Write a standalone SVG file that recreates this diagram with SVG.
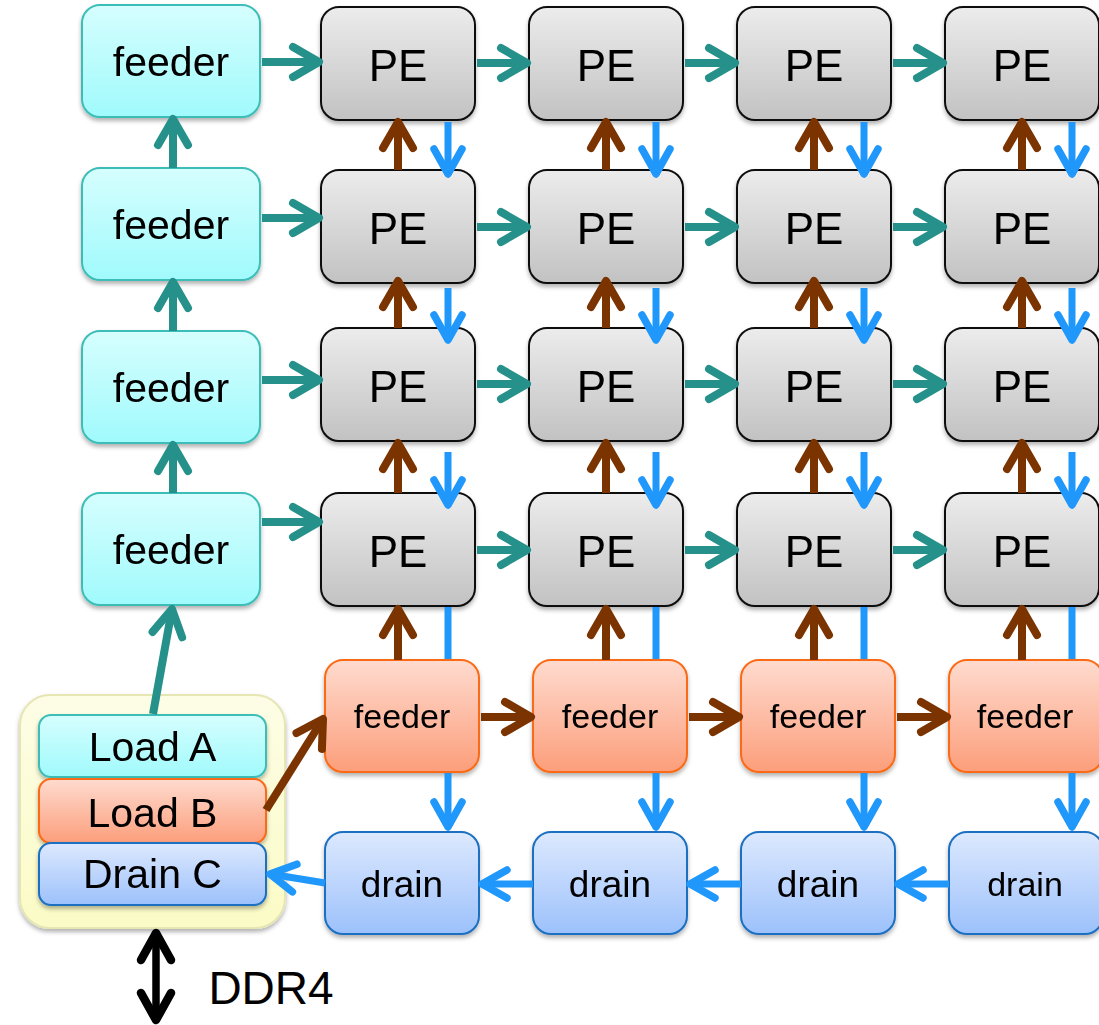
<svg xmlns="http://www.w3.org/2000/svg" width="1099" height="1025" viewBox="0 0 1099 1025">
<defs>
<linearGradient id="gPE" x1="0" y1="0" x2="0" y2="1"><stop offset="0" stop-color="#ececec"/><stop offset="1" stop-color="#c2c2c2"/></linearGradient>
<linearGradient id="gCy" x1="0" y1="0" x2="0" y2="1"><stop offset="0" stop-color="#d6fefe"/><stop offset="1" stop-color="#a0fafc"/></linearGradient>
<linearGradient id="gOr" x1="0" y1="0" x2="0" y2="1"><stop offset="0" stop-color="#fedbcf"/><stop offset="1" stop-color="#fc9e7b"/></linearGradient>
<linearGradient id="gBl" x1="0" y1="0" x2="0" y2="1"><stop offset="0" stop-color="#dde9fe"/><stop offset="1" stop-color="#9cc1fb"/></linearGradient>
<linearGradient id="gYe" x1="0" y1="0" x2="0" y2="1"><stop offset="0" stop-color="#fdfde6"/><stop offset="1" stop-color="#fbfbc6"/></linearGradient>
<filter id="sh" x="-10%" y="-10%" width="120%" height="130%"><feDropShadow dx="0" dy="3" stdDeviation="2" flood-color="#000" flood-opacity="0.3"/></filter>
<marker id="aT" markerUnits="userSpaceOnUse" orient="auto" overflow="visible" markerWidth="10" markerHeight="10" refX="0" refY="0"><path d="M-26,-15 L0,0 L-26,15" fill="none" stroke="#25918a" stroke-width="8" stroke-linecap="round" stroke-linejoin="round"/></marker>
<marker id="aR" markerUnits="userSpaceOnUse" orient="auto" overflow="visible" markerWidth="10" markerHeight="10" refX="0" refY="0"><path d="M-26,-15 L0,0 L-26,15" fill="none" stroke="#7b3300" stroke-width="8" stroke-linecap="round" stroke-linejoin="round"/></marker>
<marker id="aB" markerUnits="userSpaceOnUse" orient="auto" overflow="visible" markerWidth="10" markerHeight="10" refX="0" refY="0"><path d="M-25,-14 L0,0 L-25,14" fill="none" stroke="#1f97fb" stroke-width="7.5" stroke-linecap="round" stroke-linejoin="round"/></marker>
<marker id="aK" markerUnits="userSpaceOnUse" orient="auto-start-reverse" overflow="visible" markerWidth="10" markerHeight="10" refX="0" refY="0"><path d="M-27,-15 L0,0 L-27,15" fill="none" stroke="#000" stroke-width="8.5" stroke-linecap="round" stroke-linejoin="round"/></marker>
</defs>
<style>
text{font-family:"Liberation Sans",Arial,Helvetica,sans-serif;fill:#000;text-anchor:middle}
.pe{fill:url(#gPE);stroke:#111;stroke-width:2}
.cy{fill:url(#gCy);stroke:#3dbdb8;stroke-width:2}
.or{fill:url(#gOr);stroke:#fb6a12;stroke-width:2}
.bl{fill:url(#gBl);stroke:#1c6fc2;stroke-width:2}
.ye{fill:url(#gYe);stroke:#e6e6b4;stroke-width:2}
.box{filter:url(#sh)}
.t{stroke:#25918a;stroke-width:8;fill:none}
.r{stroke:#7b3300;stroke-width:8;fill:none}
.b{stroke:#1f97fb;stroke-width:7;fill:none}
.k{stroke:#000;stroke-width:7.5;fill:none}
.tPE{font-size:44px}
.tCy{font-size:41px}
.tOr{font-size:34px}
.tDr{font-size:37px}
.tLd{font-size:41px}
</style>

<!-- Load group -->
<g id="loadbox" class="box"><rect class="ye" x="20" y="695" width="265" height="233" rx="30"/></g>
<g id="loadA" class="box"><rect class="cy" x="39" y="715" width="227" height="62" rx="12"/><text class="tLd" x="152.5" y="761">Load A</text></g>
<g id="loadB" class="box"><rect class="or" x="39" y="779" width="227" height="64" rx="12"/><text class="tLd" x="152.5" y="827">Load B</text></g>
<g id="drainC" class="box"><rect class="bl" x="39" y="843" width="227" height="62" rx="12"/><text class="tLd" x="152.5" y="888">Drain C</text></g>

<!-- cyan feeders -->
<g id="feederL1" class="box"><rect class="cy" x="82" y="5" width="178" height="112" rx="18"/><text class="tCy" x="171" y="76">feeder</text></g>
<g id="feederL2" class="box"><rect class="cy" x="82" y="168" width="178" height="112" rx="18"/><text class="tCy" x="171" y="239">feeder</text></g>
<g id="feederL3" class="box"><rect class="cy" x="82" y="331" width="178" height="112" rx="18"/><text class="tCy" x="171" y="402">feeder</text></g>
<g id="feederL4" class="box"><rect class="cy" x="82" y="493" width="178" height="112" rx="18"/><text class="tCy" x="171" y="564">feeder</text></g>

<!-- PE grid -->
<g id="pe11" class="box"><rect class="pe" x="321" y="7" width="154" height="113" rx="18"/><text class="tPE" x="398" y="81">PE</text></g>
<g id="pe12" class="box"><rect class="pe" x="529" y="7" width="154" height="113" rx="18"/><text class="tPE" x="606" y="81">PE</text></g>
<g id="pe13" class="box"><rect class="pe" x="737" y="7" width="154" height="113" rx="18"/><text class="tPE" x="814" y="81">PE</text></g>
<g id="pe14" class="box"><rect class="pe" x="945" y="7" width="154" height="113" rx="18"/><text class="tPE" x="1022" y="81">PE</text></g>
<g id="pe21" class="box"><rect class="pe" x="321" y="170" width="154" height="113" rx="18"/><text class="tPE" x="398" y="244">PE</text></g>
<g id="pe22" class="box"><rect class="pe" x="529" y="170" width="154" height="113" rx="18"/><text class="tPE" x="606" y="244">PE</text></g>
<g id="pe23" class="box"><rect class="pe" x="737" y="170" width="154" height="113" rx="18"/><text class="tPE" x="814" y="244">PE</text></g>
<g id="pe24" class="box"><rect class="pe" x="945" y="170" width="154" height="113" rx="18"/><text class="tPE" x="1022" y="244">PE</text></g>
<g id="pe31" class="box"><rect class="pe" x="321" y="328" width="154" height="113" rx="18"/><text class="tPE" x="398" y="402">PE</text></g>
<g id="pe32" class="box"><rect class="pe" x="529" y="328" width="154" height="113" rx="18"/><text class="tPE" x="606" y="402">PE</text></g>
<g id="pe33" class="box"><rect class="pe" x="737" y="328" width="154" height="113" rx="18"/><text class="tPE" x="814" y="402">PE</text></g>
<g id="pe34" class="box"><rect class="pe" x="945" y="328" width="154" height="113" rx="18"/><text class="tPE" x="1022" y="402">PE</text></g>
<g id="pe41" class="box"><rect class="pe" x="321" y="493" width="154" height="113" rx="18"/><text class="tPE" x="398" y="567">PE</text></g>
<g id="pe42" class="box"><rect class="pe" x="529" y="493" width="154" height="113" rx="18"/><text class="tPE" x="606" y="567">PE</text></g>
<g id="pe43" class="box"><rect class="pe" x="737" y="493" width="154" height="113" rx="18"/><text class="tPE" x="814" y="567">PE</text></g>
<g id="pe44" class="box"><rect class="pe" x="945" y="493" width="154" height="113" rx="18"/><text class="tPE" x="1022" y="567">PE</text></g>

<!-- orange feeders -->
<g id="feederB1" class="box"><rect class="or" x="325" y="660" width="154" height="112" rx="18"/><text class="tOr" x="402" y="728">feeder</text></g>
<g id="feederB2" class="box"><rect class="or" x="533" y="660" width="154" height="112" rx="18"/><text class="tOr" x="610" y="728">feeder</text></g>
<g id="feederB3" class="box"><rect class="or" x="741" y="660" width="154" height="112" rx="18"/><text class="tOr" x="818" y="728">feeder</text></g>
<g id="feederB4" class="box"><rect class="or" x="949" y="660" width="154" height="112" rx="18"/><text class="tOr" x="1025" y="728">feeder</text></g>

<!-- drains -->
<g id="drain1" class="box"><rect class="bl" x="325" y="832" width="154" height="102" rx="18"/><text class="tDr" x="402" y="897">drain</text></g>
<g id="drain2" class="box"><rect class="bl" x="533" y="832" width="154" height="102" rx="18"/><text class="tDr" x="610" y="897">drain</text></g>
<g id="drain3" class="box"><rect class="bl" x="741" y="832" width="154" height="102" rx="18"/><text class="tDr" x="818" y="897">drain</text></g>
<g id="drain4" class="box"><rect class="bl" x="949" y="832" width="154" height="102" rx="18"/><text x="1025" y="896" style="font-size:34px">drain</text></g>

<text x="271" y="1004" style="font-size:46px">DDR4</text>

<!-- connectors -->
<g id="connectors">
<!-- cyan feeder column -->
<line class="t" x1="173" y1="168" x2="173" y2="119" marker-end="url(#aT)"/>
<line class="t" x1="173" y1="331" x2="173" y2="282" marker-end="url(#aT)"/>
<line class="t" x1="173" y1="493" x2="173" y2="445" marker-end="url(#aT)"/>
<line class="t" x1="153" y1="714" x2="172" y2="609" marker-end="url(#aT)"/>
<!-- feeder to PE -->
<line class="t" x1="262" y1="62" x2="319" y2="62" marker-end="url(#aT)"/>
<line class="t" x1="262" y1="218" x2="319" y2="218" marker-end="url(#aT)"/>
<line class="t" x1="262" y1="380" x2="319" y2="380" marker-end="url(#aT)"/>
<line class="t" x1="262" y1="522" x2="319" y2="522" marker-end="url(#aT)"/>
<!-- PE to PE -->
<line class="t" x1="477" y1="63" x2="527" y2="63" marker-end="url(#aT)"/>
<line class="t" x1="685" y1="63" x2="735" y2="63" marker-end="url(#aT)"/>
<line class="t" x1="893" y1="63" x2="943" y2="63" marker-end="url(#aT)"/>
<line class="t" x1="477" y1="227" x2="527" y2="227" marker-end="url(#aT)"/>
<line class="t" x1="685" y1="227" x2="735" y2="227" marker-end="url(#aT)"/>
<line class="t" x1="893" y1="227" x2="943" y2="227" marker-end="url(#aT)"/>
<line class="t" x1="477" y1="384" x2="527" y2="384" marker-end="url(#aT)"/>
<line class="t" x1="685" y1="384" x2="735" y2="384" marker-end="url(#aT)"/>
<line class="t" x1="893" y1="384" x2="943" y2="384" marker-end="url(#aT)"/>
<line class="t" x1="477" y1="550" x2="527" y2="550" marker-end="url(#aT)"/>
<line class="t" x1="685" y1="550" x2="735" y2="550" marker-end="url(#aT)"/>
<line class="t" x1="893" y1="550" x2="943" y2="550" marker-end="url(#aT)"/>
<!-- brown up arrows -->
<line class="r" x1="398" y1="170" x2="398" y2="122" marker-end="url(#aR)"/>
<line class="r" x1="606" y1="170" x2="606" y2="122" marker-end="url(#aR)"/>
<line class="r" x1="814" y1="170" x2="814" y2="122" marker-end="url(#aR)"/>
<line class="r" x1="1022" y1="170" x2="1022" y2="122" marker-end="url(#aR)"/>
<line class="r" x1="398" y1="328" x2="398" y2="281" marker-end="url(#aR)"/>
<line class="r" x1="606" y1="328" x2="606" y2="281" marker-end="url(#aR)"/>
<line class="r" x1="814" y1="328" x2="814" y2="281" marker-end="url(#aR)"/>
<line class="r" x1="1022" y1="328" x2="1022" y2="281" marker-end="url(#aR)"/>
<line class="r" x1="398" y1="493" x2="398" y2="443" marker-end="url(#aR)"/>
<line class="r" x1="606" y1="493" x2="606" y2="443" marker-end="url(#aR)"/>
<line class="r" x1="814" y1="493" x2="814" y2="443" marker-end="url(#aR)"/>
<line class="r" x1="1022" y1="493" x2="1022" y2="443" marker-end="url(#aR)"/>
<line class="r" x1="398" y1="660" x2="398" y2="609" marker-end="url(#aR)"/>
<line class="r" x1="606" y1="660" x2="606" y2="609" marker-end="url(#aR)"/>
<line class="r" x1="814" y1="660" x2="814" y2="609" marker-end="url(#aR)"/>
<line class="r" x1="1022" y1="660" x2="1022" y2="609" marker-end="url(#aR)"/>
<!-- brown feeder chain -->
<line class="r" x1="266" y1="810" x2="323" y2="719" marker-end="url(#aR)"/>
<line class="r" x1="481" y1="717" x2="531" y2="717" marker-end="url(#aR)"/>
<line class="r" x1="689" y1="717" x2="739" y2="717" marker-end="url(#aR)"/>
<line class="r" x1="897" y1="717" x2="947" y2="717" marker-end="url(#aR)"/>
<!-- blue down arrows -->
<line class="b" x1="448" y1="122" x2="448" y2="174" marker-end="url(#aB)"/>
<line class="b" x1="656" y1="122" x2="656" y2="174" marker-end="url(#aB)"/>
<line class="b" x1="864" y1="122" x2="864" y2="174" marker-end="url(#aB)"/>
<line class="b" x1="1072" y1="122" x2="1072" y2="174" marker-end="url(#aB)"/>
<line class="b" x1="448" y1="288" x2="448" y2="340" marker-end="url(#aB)"/>
<line class="b" x1="656" y1="288" x2="656" y2="340" marker-end="url(#aB)"/>
<line class="b" x1="864" y1="288" x2="864" y2="340" marker-end="url(#aB)"/>
<line class="b" x1="1072" y1="288" x2="1072" y2="340" marker-end="url(#aB)"/>
<line class="b" x1="448" y1="452" x2="448" y2="505" marker-end="url(#aB)"/>
<line class="b" x1="656" y1="452" x2="656" y2="505" marker-end="url(#aB)"/>
<line class="b" x1="864" y1="452" x2="864" y2="505" marker-end="url(#aB)"/>
<line class="b" x1="1072" y1="452" x2="1072" y2="505" marker-end="url(#aB)"/>
<line class="b" x1="448" y1="607" x2="448" y2="659"/>
<line class="b" x1="656" y1="607" x2="656" y2="659"/>
<line class="b" x1="864" y1="607" x2="864" y2="659"/>
<line class="b" x1="1072" y1="607" x2="1072" y2="659"/>
<line class="b" x1="448" y1="773" x2="448" y2="827" marker-end="url(#aB)"/>
<line class="b" x1="656" y1="773" x2="656" y2="827" marker-end="url(#aB)"/>
<line class="b" x1="864" y1="773" x2="864" y2="827" marker-end="url(#aB)"/>
<line class="b" x1="1072" y1="773" x2="1072" y2="827" marker-end="url(#aB)"/>
<!-- drain chain -->
<line class="b" x1="949" y1="884" x2="898" y2="884" marker-end="url(#aB)"/>
<line class="b" x1="741" y1="884" x2="690" y2="884" marker-end="url(#aB)"/>
<line class="b" x1="533" y1="884" x2="482" y2="884" marker-end="url(#aB)"/>
<line class="b" x1="325" y1="883" x2="270" y2="874" marker-end="url(#aB)"/>
<!-- DDR4 -->
<line class="k" x1="156" y1="933" x2="156" y2="1020" marker-start="url(#aK)" marker-end="url(#aK)"/>
</g>
</svg>
